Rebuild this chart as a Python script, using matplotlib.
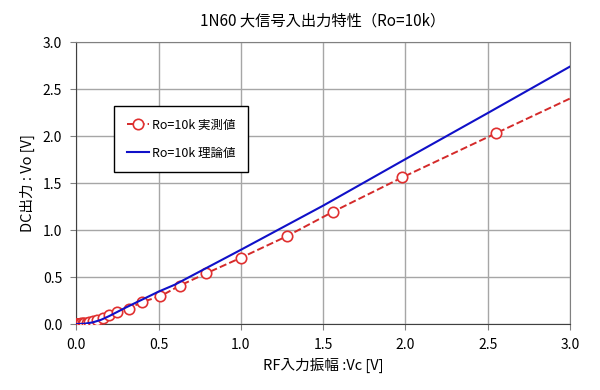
import numpy as np
import matplotlib
matplotlib.use("Agg")
import matplotlib.pyplot as plt

plt.rcParams['font.family'] = ['Noto Sans CJK JP', 'DejaVu Sans']

# measured values (Ro=10k), last point is the line end without marker
vc_meas = [0.004, 0.005, 0.0063, 0.008, 0.01, 0.0125, 0.016, 0.02, 0.025, 0.032,
           0.04, 0.05, 0.063, 0.08, 0.10, 0.125, 0.16, 0.20, 0.25, 0.32, 0.40, 0.51,
           0.63, 0.79, 1.0, 1.28, 1.56, 1.98, 2.55, 3.0]
vo_meas = [0.0, 0.0, 0.001, 0.001, 0.002, 0.002, 0.003, 0.004, 0.005, 0.007,
           0.009, 0.011, 0.014, 0.02, 0.03, 0.045, 0.065, 0.095, 0.125, 0.165, 0.235,
           0.295, 0.41, 0.54, 0.705, 0.935, 1.195, 1.56, 2.03, 2.40]

# theoretical values
vc_theory = [0, 0.05, 0.1, 0.15, 0.2, 0.25, 0.3, 0.4, 0.5, 0.6, 0.8, 1.0, 1.5, 2.0, 2.5, 3.0]
vo_theory = [0, 0.004, 0.018, 0.045, 0.085, 0.13, 0.175, 0.26, 0.345, 0.42, 0.605, 0.79,
             1.26, 1.755, 2.245, 2.74]

fig = plt.figure(figsize=(6, 3.9), dpi=100)
ax = fig.add_axes([0.127, 0.169, 0.823, 0.723])

ax.plot(vc_meas, vo_meas, color='#d42a2a', linestyle='--', linewidth=1.4,
        marker='o', markersize=7.5, markerfacecolor='white', markeredgecolor='#e03030',
        markeredgewidth=1.2, markevery=list(range(len(vc_meas) - 1)),
        label='Ro=10k 実測値', zorder=3)
ax.plot(vc_theory, vo_theory, color='#1010c8', linewidth=1.5,
        label='Ro=10k 理論値', zorder=4)

ax.set_xlim(0, 3.0)
ax.set_ylim(0, 3.0)
ticks = np.arange(0, 3.01, 0.5)
ax.set_xticks(ticks)
ax.set_yticks(ticks)
ax.set_xticklabels([f'{t:.1f}' for t in ticks], fontsize=10)
ax.set_yticklabels([f'{t:.1f}' for t in ticks], fontsize=10)
ax.tick_params(direction='out', length=4, color='#808080', pad=6)
ax.grid(True, color='#a6a6a6', linewidth=1)
ax.set_axisbelow(True)
for s in ax.spines.values():
    s.set_color('#808080')
ax.spines['left'].set_color('#404040')
ax.spines['bottom'].set_color('#404040')

ax.set_title('1N60 大信号入出力特性（Ro=10k）', fontsize=11, pad=12)
ax.set_xlabel('RF入力振幅 :Vc [V]', fontsize=10.5, labelpad=4)
ax.set_ylabel('DC出力 : Vo [V]', fontsize=10.5, labelpad=6)

leg = ax.legend(loc='upper left', bbox_to_anchor=(0.077, 0.773), fontsize=9,
                frameon=True, fancybox=False, edgecolor='black', handlelength=1.8,
                borderpad=1.0, labelspacing=1.2, handletextpad=0.2, borderaxespad=0)
leg.get_frame().set_linewidth(1.0)
leg.get_frame().set_alpha(1)

fig.savefig('out.png', dpi=100)
